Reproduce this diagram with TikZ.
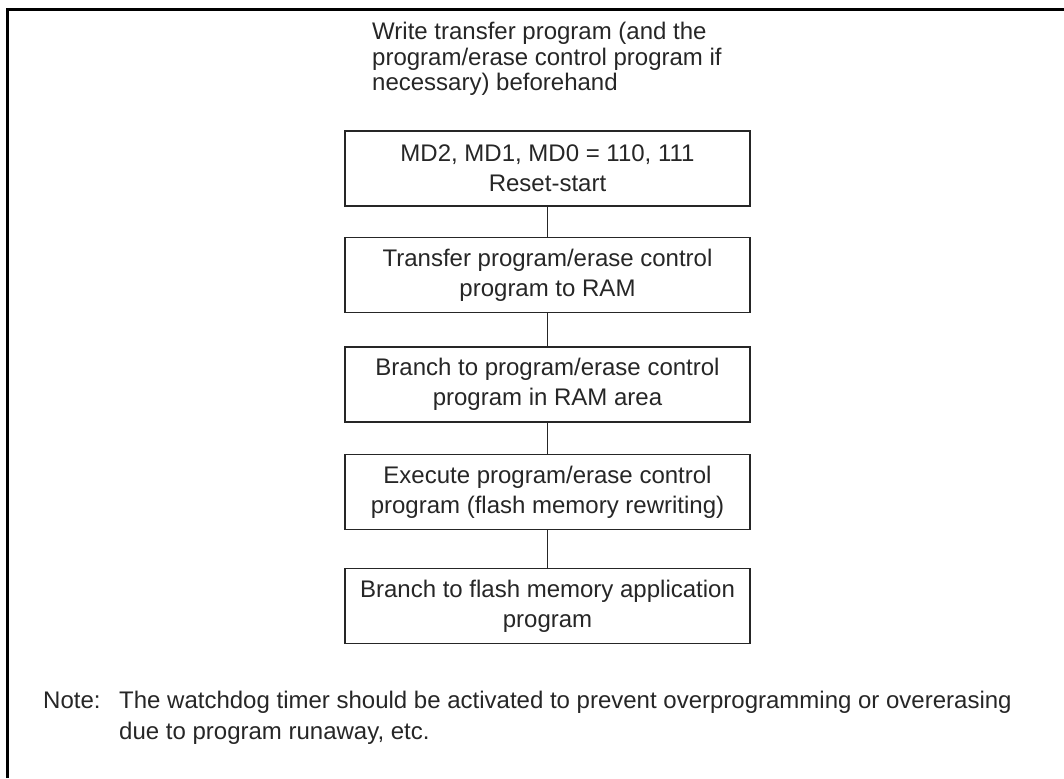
\documentclass[tikz,border=0pt]{standalone}
\usepackage{fontspec}
\setmainfont{Liberation Sans}
\usetikzlibrary{positioning}

\begin{document}
\begin{tikzpicture}[x=1pt,y=-1pt,
  stepbox/.style={draw=black!85,line width=1.5pt,minimum width=405pt,minimum height=75pt,
    align=center,inner sep=0pt,text=black!85,font=\fontsize{24}{30}\selectfont},
  link/.style={draw=black!85,line width=1pt},
  plain/.style={inner sep=0pt,text=black!85,align=left,font=\fontsize{24}{25.5}\selectfont}]
  \useasboundingbox (0,0) rectangle (1064,778);
  \draw[line width=3pt] (7,778) -- (7,10) -- (1064,10);
  \node[plain,anchor=north west] (pre) at (372,22) {Write transfer program (and the\\program/erase control program if\\necessary) beforehand};
  \node[stepbox] (reset) at (547.5,168.5) {MD2, MD1, MD0 = 110, 111\\Reset-start};
  \node[stepbox] (xfer) at (547.5,275) {Transfer program/erase control\\program to RAM};
  \node[stepbox] (jump) at (547.5,384.5) {Branch to program/erase control\\program in RAM area};
  \node[stepbox] (exec) at (547.5,492) {Execute program/erase control\\program (flash memory rewriting)};
  \node[stepbox] (app) at (547.5,606) {Branch to flash memory application\\program};
  \draw[link] (reset) -- (xfer);
  \draw[link] (xfer) -- (jump);
  \draw[link] (jump) -- (exec);
  \draw[link] (exec) -- (app);
  \node[plain,anchor=north west,font=\fontsize{24}{31}\selectfont] (notetxt) at (119,691) {The watchdog timer should be activated to prevent overprogramming or overerasing\\due to program runaway, etc.};
  \node[plain,anchor=base west] (notelbl) at (43,708.5) {Note:};
\end{tikzpicture}
\end{document}
